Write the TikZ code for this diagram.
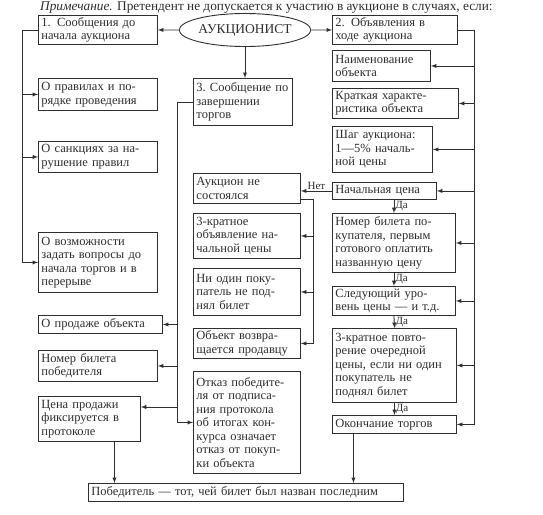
\documentclass[tikz,border=0pt]{standalone}
\usepackage{fontspec}
\setmainfont{Liberation Serif}
\usetikzlibrary{arrows}
\usetikzlibrary{shapes.geometric,calc}
\colorlet{ink}{black!82}
\tikzset{
  blk/.style 2 args={draw=ink, line width=0.9pt, anchor=north west, align=left,
    inner xsep=3pt, inner ysep=1pt, minimum width=#1, text width=#1-6, minimum height=#2},
  ln/.style={draw=ink, line width=0.9pt},
  arr/.style={ln, -latex},
  lbl/.style={font=\fontsize{11}{12}\selectfont, inner sep=1pt},
}

\begin{document}
\begin{tikzpicture}[x=1pt,y=-1pt,every node/.style={font=\fontsize{12.5}{13.5}\selectfont, text=ink}]
\useasboundingbox[fill=white] (0,0) rectangle (543,514);
%\draw[help lines,step=50] (0,0) grid (543,514);
\node[ellipse, draw=ink, line width=0.9pt, minimum width=105, minimum height=33, inner sep=0, font=\fontsize{13.5}{14}\selectfont] (auk) at (245,30) {АУКЦИОНИСТ};
\node[blk={119}{29}] (soob1) at (38,15) {1. Сообщения до\\начала аукциона};
\node[blk={125}{29}] (soob2) at (332,15) {2. Объявления в\\ходе аукциона};
\node[blk={99}{47}] (soob3) at (193,78) {3.~Сообщение~по\\завершении\\торгов};
\node[blk={119}{32}] (pravila) at (38,78) {О правилах и по-\\рядке проведения};
\node[blk={119}{31}] (sankcii) at (38,141) {О санкциях за на-\\рушение правил};
\node[blk={119}{60}] (vopros) at (38,232) {О возможности\\задать вопросы до\\начала торгов и в\\перерыве};
\node[blk={124}{18}] (prodazha) at (38,315) {О продаже объекта};
\node[blk={119}{31}] (pobeditel) at (38,350) {Номер билета\\победителя};
\node[blk={102}{45}] (cena) at (38,396) {Цена продажи\\фиксируется в\\протоколе};
\node[blk={107}{30}] (nesost) at (193,173) {Аукцион не\\состоялся};
\node[blk={107}{45}] (tri) at (193,213) {3-кратное\\объявление на-\\чальной цены};
\node[blk={107}{47}] (nikto) at (193,268) {Ни один поку-\\патель не под-\\нял билет};
\node[blk={107}{30}] (vozvrat) at (193,328) {Объект возвра-\\щается продавцу};
\node[blk={107}{102}] (otkaz) at (193,371) {Отказ победите-\\ля от подписа-\\ния протокола\\об итогах кон-\\курса означает\\отказ от покуп-\\ки объекта};
\node[blk={98}{31}] (naim) at (332,50) {Наименование\\объекта};
\node[blk={126}{30}] (harakt) at (332,88) {Краткая характе-\\ристика объекта};
\node[blk={100}{46}] (shag) at (332,126) {Шаг аукциона:\\1—5\% началь-\\ной цены};
\node[blk={104}{17}] (nach) at (332,182) {Начальная цена};
\node[blk={123}{59}] (bilet) at (332,213) {Номер билета по-\\купателя, первым\\готового оплатить\\названную цену};
\node[blk={123}{29}] (uroven) at (332,286) {Следующий уро-\\вень цены — и т.д.};
\node[blk={124}{74}] (povtor) at (332,328) {3-кратное повто-\\рение очередной\\цены, если ни один\\покупатель не\\поднял билет};
\node[blk={124}{18}] (okonch) at (332,415) {Окончание торгов};
\node[blk={315}{18}] (itog) at (88,483) {Победитель — тот, чей билет был назван последним};
\draw[arr] (auk.west) -- (soob1.east);
\draw[arr] (auk.east) -- (soob2.west);
\draw[arr] (auk.south) -- (auk.south |- soob3.north);
\draw[ln] (soob1.west) -- ++(-16,0) coordinate (lt);
\foreach \n in {pravila,sankcii,vopros} \draw[arr] (lt) |- (\n.west);
\draw[ln] (soob2.east) -- ++(17,0) coordinate (rt);
\foreach \n in {naim,harakt,shag,nach,bilet,uroven,povtor,okonch} \draw[arr] (rt) |- (\n.east);
\draw[ln] (soob3.west) -- ++(-16,0) coordinate (mt);
\foreach \n in {prodazha,pobeditel} \draw[arr] (mt) |- (\n.east);
\draw[arr] (mt) |- ([yshift=-11pt]cena.north east);
\draw[arr] (mt) |- (otkaz.west);
\draw[ln] ([yshift=4pt]nesost.south east) -- ++(13,0) coordinate (mr);
\foreach \n in {tri,nikto,vozvrat} \draw[arr] (mr) |- (\n.east);
\draw[arr] (nach.west) -- (nach.west -| nesost.east) node[midway,above,lbl]{Нет};
\draw[arr] (bilet.north |- nach.south) -- (bilet.north) node[midway,right,lbl]{Да};
\draw[arr] (bilet.south) -- (uroven.north) node[midway,right,lbl]{Да};
\draw[arr] (uroven.south) -- (povtor.north) node[midway,right,lbl]{Да};
\draw[arr] (povtor.south) -- (okonch.north) node[midway,right,lbl]{Да};
\draw[arr] ([xshift=25pt]cena.south) -- ([xshift=25pt]cena.south |- itog.north);
\draw[arr] ([xshift=-41pt]okonch.south) -- ([xshift=-41pt]okonch.south |- itog.north);
\node[anchor=west, inner sep=0, font=\fontsize{13.3}{14}\selectfont] (prim) at (40,8) {\textit{Примечание.} Претендент не допускается к участию в аукционе в случаях, если:};
\end{tikzpicture}
\end{document}
